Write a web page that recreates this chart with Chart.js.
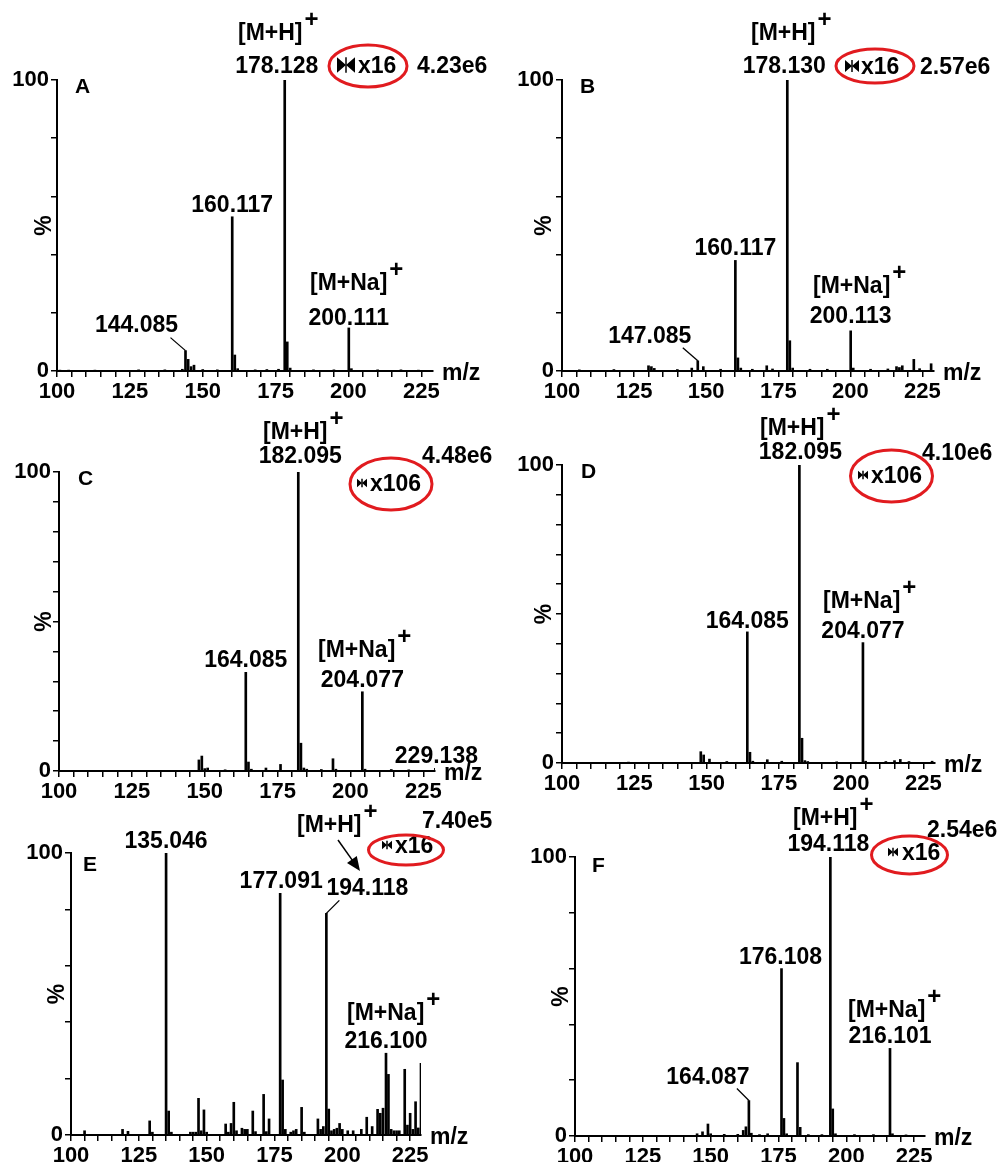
<!DOCTYPE html>
<html>
<head>
<meta charset="utf-8">
<script src="https://cdn.jsdelivr.net/npm/chart.js@4.4.1/dist/chart.umd.min.js"></script>
<style>
  body { margin: 0; background: #fff; }
  #page { position: relative; width: 997px; height: 1162px; overflow: hidden; background: #fff; }
  #page canvas { position: absolute; }
</style>
</head>
<body>
<div id="page"></div>
<script>
// m/z and relative intensity (%)
const mzA = [101, 104, 113, 128, 137, 143, 144.085, 145, 146, 147, 150, 155, 160.117, 161, 162, 168, 172, 176, 178.128, 179, 180, 188, 195, 200.111, 201, 210, 218, 224];
const intA = [0.3, 0.3, 0.3, 0.4, 0.4, 0.6, 7, 4, 1.5, 2, 0.5, 0.4, 53, 5.5, 0.8, 0.4, 0.5, 0.6, 100, 10, 1, 0.4, 0.4, 14.8, 0.8, 0.4, 0.4, 0.3];

const mzB = [106, 118, 130, 131, 132, 140, 145, 147.085, 149, 155, 160.117, 161, 162, 166, 171, 173, 178.130, 179, 180, 186, 192, 200.113, 201, 207, 213, 216, 217, 218, 222, 224, 228];
const intB = [0.4, 0.5, 1.8, 1.5, 0.9, 0.5, 1, 3.5, 1.5, 0.6, 38, 4.5, 1, 0.6, 1.8, 0.7, 100, 10.4, 1, 0.6, 0.6, 13.8, 1, 0.6, 0.7, 1.5, 1.2, 1.8, 4, 0.8, 2.5];

const mzC = [148, 149, 150, 151, 157, 164.085, 165, 166, 171, 176, 182.095, 183, 184, 185, 190, 194, 195, 204.077, 205, 214, 220, 229.138];
const intC = [3.7, 5, 0.8, 1, 0.4, 33, 3, 0.6, 1, 2.2, 100, 9.3, 1, 0.6, 0.5, 4.1, 0.6, 26.5, 0.6, 0.5, 0.4, 0.9];

const mzD = [123, 148, 149, 151, 157, 164.085, 165, 166, 171, 176, 182.095, 183, 184, 185, 195, 204.077, 205, 212, 215, 217, 220, 228];
const intD = [0.3, 3.8, 2.7, 1.3, 0.5, 44, 3.6, 0.6, 1.1, 0.6, 100, 8.3, 0.8, 0.5, 0.4, 40.4, 0.6, 0.5, 0.8, 1.2, 0.5, 0.6];

const mzE = [105, 119, 121, 129, 130, 135.046, 136, 137, 144, 145, 146, 147, 148, 149, 150, 157, 158, 159, 160, 161, 163, 164, 165, 167, 168, 171, 172, 173, 177.091, 178, 179, 181, 182, 183, 185, 186, 191, 192, 193, 194.118, 195, 196, 197, 198, 199, 200, 202, 204, 207, 209, 211, 213, 214, 215, 216.100, 217, 218, 219, 220, 221, 223, 224, 225, 226, 227, 228, 229];
const intE = [1.5, 2, 1.3, 5, 1, 100, 8.5, 1, 1, 1, 1, 13, 1.5, 8.9, 1, 3.9, 1, 4.1, 11.6, 1.5, 2.4, 2, 2, 8.5, 1.2, 14.4, 1.2, 5.7, 85.7, 19.5, 2, 1, 1.5, 2, 9.8, 1, 5.7, 2, 3, 78.6, 9.2, 1.5, 2, 2.4, 4.1, 2, 1.5, 1.5, 2, 6.3, 3, 9.1, 7.7, 9.5, 29, 21.5, 2, 1.5, 1.5, 1.5, 23.3, 3.5, 7.7, 2, 11.8, 2.5, 25.4];

const mzF = [145, 147, 149, 150, 155, 160, 162, 163, 164.087, 165, 168, 171, 176.108, 177, 178, 182, 183, 186, 191, 194.118, 195, 196, 203, 210, 216.101, 217, 222];
const intF = [0.8, 1.5, 4.3, 0.8, 0.6, 0.6, 2, 3.3, 12.7, 1, 0.5, 0.8, 60, 6.3, 0.8, 26.3, 3.1, 0.5, 0.5, 100, 9.7, 0.8, 0.5, 0.5, 31.4, 0.8, 0.4];

const xTicks = [100, 125, 150, 175, 200, 225];
const yTicks = [0, 100];

const FONT = '"Liberation Sans", Arial, sans-serif';

// where each panel's plot box sits on the page (px per m/z unit)
const frames = {
  A: { left: 57, top: 80, bottom: 371, ppu: 2.912 },
  B: { left: 562, top: 80, bottom: 371, ppu: 2.88 },
  C: { left: 59, top: 472, bottom: 771, ppu: 2.915 },
  D: { left: 562, top: 465, bottom: 763, ppu: 2.89 },
  E: { left: 71, top: 853, bottom: 1135, ppu: 2.714 },
  F: { left: 575, top: 857, bottom: 1136, ppu: 2.712 }
};

// text annotations, page coordinates
const notes = {
  A: {
    letter: [75, 93], pct: 45,
    peaks: [{ mz: 178.128, dx: -8, gap: 7 }, { mz: 160.117, dx: 0, gap: 5 }, { mz: 144.085, dx: -49, gap: 19 }, { mz: 200.111, dx: 0, gap: 3 }],
    leaders: [{ mz: 144.085, dx: -15, dy: -13 }],
    ions: [{ text: '[M+H]', x: 238, y: 40 }, { text: '[M+Na]', x: 310, y: 290 }],
    ring: { cx: 368, cy: 66, rx: 39, ry: 21, bx: 346, bs: 9, text: 'x16', tx: 358, ty: 73 },
    total: { text: '4.23e6', x: 417, y: 73 }
  },
  B: {
    letter: [580, 93], pct: 545,
    peaks: [{ mz: 178.130, dx: -3, gap: 7 }, { mz: 160.117, dx: 0, gap: 5 }, { mz: 147.085, dx: -48, gap: 18 }, { mz: 200.113, dx: 0, gap: 8 }],
    leaders: [{ mz: 147.085, dx: -15, dy: -13 }],
    ions: [{ text: '[M+H]', x: 751, y: 40 }, { text: '[M+Na]', x: 813, y: 293 }],
    ring: { cx: 875, cy: 66, rx: 39, ry: 17, bx: 852, bs: 7, text: 'x16', tx: 861, ty: 74 },
    total: { text: '2.57e6', x: 920, y: 74 }
  },
  C: {
    letter: [78, 485], pct: 45,
    peaks: [{ mz: 182.095, dx: 2, gap: 9 }, { mz: 164.085, dx: 0, gap: 5 }, { mz: 204.077, dx: 0, gap: 5 }, { mz: 229.138, dx: 1, gap: 5 }],
    leaders: [],
    ions: [{ text: '[M+H]', x: 263, y: 439 }, { text: '[M+Na]', x: 318, y: 657 }],
    ring: { cx: 391, cy: 484, rx: 41, ry: 26, bx: 362, bs: 5, text: 'x106', tx: 370, ty: 491 },
    total: { text: '4.48e6', x: 422, y: 463 }
  },
  D: {
    letter: [581, 478], pct: 545,
    peaks: [{ mz: 182.095, dx: 1, gap: 6 }, { mz: 164.085, dx: 0, gap: 4 }, { mz: 204.077, dx: 0, gap: 5 }],
    leaders: [],
    ions: [{ text: '[M+H]', x: 760, y: 435 }, { text: '[M+Na]', x: 823, y: 608 }],
    ring: { cx: 891.5, cy: 476, rx: 41, ry: 26, bx: 863, bs: 5, text: 'x106', tx: 871, ty: 483 },
    total: { text: '4.10e6', x: 922, y: 460 }
  },
  E: {
    letter: [83, 871], pct: 58,
    peaks: [{ mz: 135.046, dx: 0, gap: 5 }, { mz: 177.091, dx: 1, gap: 5 }, { mz: 194.118, dx: 41, gap: 18 }, { mz: 216.100, dx: 0, gap: 5 }],
    leaders: [{ mz: 194.118, dx: 13, dy: -13 }],
    ions: [{ text: '[M+H]', x: 297, y: 832 }, { text: '[M+Na]', x: 347, y: 1020 }],
    arrow: [338, 840, 360, 871],
    ring: { cx: 406, cy: 850, rx: 37.5, ry: 15, bx: 387, bs: 5, text: 'x16', tx: 395, ty: 853 },
    total: { text: '7.40e5', x: 422, y: 828 }
  },
  F: {
    letter: [592, 872], pct: 562,
    peaks: [{ mz: 194.118, dx: -2, gap: 6 }, { mz: 176.108, dx: -1, gap: 5 }, { mz: 164.087, dx: -41, gap: 17 }, { mz: 216.101, dx: 0, gap: 5 }],
    leaders: [{ mz: 164.087, dx: -12, dy: -12 }],
    ions: [{ text: '[M+H]', x: 793, y: 825 }, { text: '[M+Na]', x: 848, y: 1017 }],
    ring: { cx: 909.5, cy: 855, rx: 38, ry: 19, bx: 893, bs: 5, text: 'x16', tx: 902, ty: 860 },
    total: { text: '2.54e6', x: 927, y: 837 }
  }
};

function peakTop(chart, mz) {
  const pt = chart.data.datasets[0].data.find(d => d.x === mz);
  return { x: chart.scales.x.getPixelForValue(mz), y: chart.scales.y.getPixelForValue(pt.y) };
}

const spectrumNotes = {
  id: 'spectrumNotes',
  afterDraw(chart) {
    const key = chart.canvas.dataset.panel;
    const n = notes[key], f = frames[key];
    const { ctx, chartArea: ca } = chart;
    const X = v => ca.left + v - f.left;
    const Y = v => ca.top + v - f.top;

    ctx.save();
    ctx.fillStyle = '#000';
    ctx.strokeStyle = '#000';
    ctx.textBaseline = 'alphabetic';

    // panel letter
    ctx.font = `bold 21px ${FONT}`;
    ctx.textAlign = 'left';
    ctx.fillText(key, X(n.letter[0]), Y(n.letter[1]));

    // axis names
    ctx.font = `bold 23px ${FONT}`;
    ctx.fillText('m/z', ca.right + 9, ca.bottom + 9);
    ctx.save();
    ctx.translate(X(n.pct), (ca.top + ca.bottom) / 2);
    ctx.rotate(-Math.PI / 2);
    ctx.textAlign = 'center';
    ctx.textBaseline = 'middle';
    ctx.fillText('%', 0, 0);
    ctx.restore();

    // peak m/z labels
    ctx.textAlign = 'center';
    n.peaks.forEach(p => {
      const t = peakTop(chart, p.mz);
      ctx.fillText(p.mz.toFixed(3), t.x + p.dx, t.y - p.gap);
    });

    // leader lines
    ctx.lineWidth = 1.3;
    n.leaders.forEach(l => {
      const t = peakTop(chart, l.mz);
      ctx.beginPath();
      ctx.moveTo(t.x + l.dx, t.y + l.dy);
      ctx.lineTo(t.x, t.y);
      ctx.stroke();
    });

    // ion labels with superscript +
    ctx.textAlign = 'left';
    n.ions.forEach(i => {
      ctx.font = `bold 23px ${FONT}`;
      ctx.fillText(i.text, X(i.x), Y(i.y));
      const w = ctx.measureText(i.text).width;
      ctx.font = `bold 24px ${FONT}`;
      ctx.fillText('+', X(i.x) + w + 2, Y(i.y) - 13);
    });

    // arrow
    if (n.arrow) {
      const [x1, y1, x2, y2] = n.arrow.map((v, k) => k % 2 ? Y(v) : X(v));
      const a = Math.atan2(y2 - y1, x2 - x1);
      ctx.lineWidth = 1.5;
      ctx.beginPath();
      ctx.moveTo(x1, y1);
      ctx.lineTo(x2 - 10 * Math.cos(a), y2 - 10 * Math.sin(a));
      ctx.stroke();
      ctx.beginPath();
      ctx.moveTo(x2, y2);
      ctx.lineTo(x2 - 14 * Math.cos(a) + 6 * Math.sin(a), y2 - 14 * Math.sin(a) - 6 * Math.cos(a));
      ctx.lineTo(x2 - 14 * Math.cos(a) - 6 * Math.sin(a), y2 - 14 * Math.sin(a) + 6 * Math.cos(a));
      ctx.closePath();
      ctx.fill();
    }

    // red ring with scaling marker
    const r = n.ring;
    ctx.font = `bold 23px ${FONT}`;
    ctx.fillText(r.text, X(r.tx), Y(r.ty));
    const bx = X(r.bx), by = Y(r.ty) - 8, s = r.bs;
    ctx.beginPath();
    ctx.moveTo(bx - s, by - s * 0.85); ctx.lineTo(bx - s, by + s * 0.85); ctx.lineTo(bx, by);
    ctx.closePath();
    ctx.moveTo(bx + s, by - s * 0.85); ctx.lineTo(bx + s, by + s * 0.85); ctx.lineTo(bx, by);
    ctx.closePath();
    ctx.fill();
    ctx.lineWidth = 1.5;
    ctx.beginPath();
    ctx.moveTo(bx, by - s * 0.85); ctx.lineTo(bx, by + s * 0.85);
    ctx.stroke();
    ctx.strokeStyle = '#e11b1f';
    ctx.lineWidth = 3;
    ctx.beginPath();
    ctx.ellipse(X(r.cx), Y(r.cy), r.rx, r.ry, 0, 0, Math.PI * 2);
    ctx.stroke();

    // base peak intensity
    ctx.fillText(n.total.text, X(n.total.x), Y(n.total.y));
    ctx.restore();
  }
};

const page = document.getElementById('page');

function drawPanel(key, mz, inten) {
  const f = frames[key];
  const w = Math.round(129 * f.ppu);
  const h = f.bottom - f.top;
  const canvas = document.createElement('canvas');
  canvas.width = w + 135;
  canvas.height = h + 140;
  canvas.style.left = (f.left - 60) + 'px';
  canvas.style.top = (f.top - 100) + 'px';
  canvas.dataset.panel = key;
  page.appendChild(canvas);

  const axisGrid = { display: true, drawOnChartArea: false, drawTicks: true, tickLength: 6, color: '#000', lineWidth: 1.5, offset: false };
  const axisBorder = { display: true, color: '#000', width: 2 };
  const tickFont = { family: FONT, size: 22, weight: 'bold' };

  new Chart(canvas, {
    type: 'bar',
    data: {
      datasets: [{
        data: mz.map((m, i) => ({ x: m, y: inten[i] })),
        backgroundColor: '#000',
        borderWidth: 0,
        barThickness: 2
      }]
    },
    options: {
      responsive: false,
      animation: false,
      layout: { padding: { left: 4, top: 100, right: 75, bottom: 10 } },
      plugins: {
        legend: { display: false },
        tooltip: { enabled: false }
      },
      scales: {
        x: {
          type: 'linear',
          min: 100,
          max: 229,
          offset: false,
          afterFit: s => { s.height = 30; },
          grid: axisGrid,
          border: axisBorder,
          ticks: {
            stepSize: 5,
            includeBounds: false,
            autoSkip: false,
            maxRotation: 0,
            padding: 2,
            color: '#000',
            font: tickFont,
            callback: v => xTicks.includes(v) ? String(v) : ''
          }
        },
        y: {
          min: 0,
          max: 100,
          afterFit: s => { s.width = 56; },
          grid: axisGrid,
          border: axisBorder,
          ticks: {
            stepSize: 10,
            padding: 2,
            color: '#000',
            font: tickFont,
            callback: v => yTicks.includes(v) ? String(v) : ''
          }
        }
      }
    },
    plugins: [spectrumNotes]
  });
}

drawPanel('A', mzA, intA);
drawPanel('B', mzB, intB);
drawPanel('C', mzC, intC);
drawPanel('D', mzD, intD);
drawPanel('E', mzE, intE);
drawPanel('F', mzF, intF);
</script>
</body>
</html>
